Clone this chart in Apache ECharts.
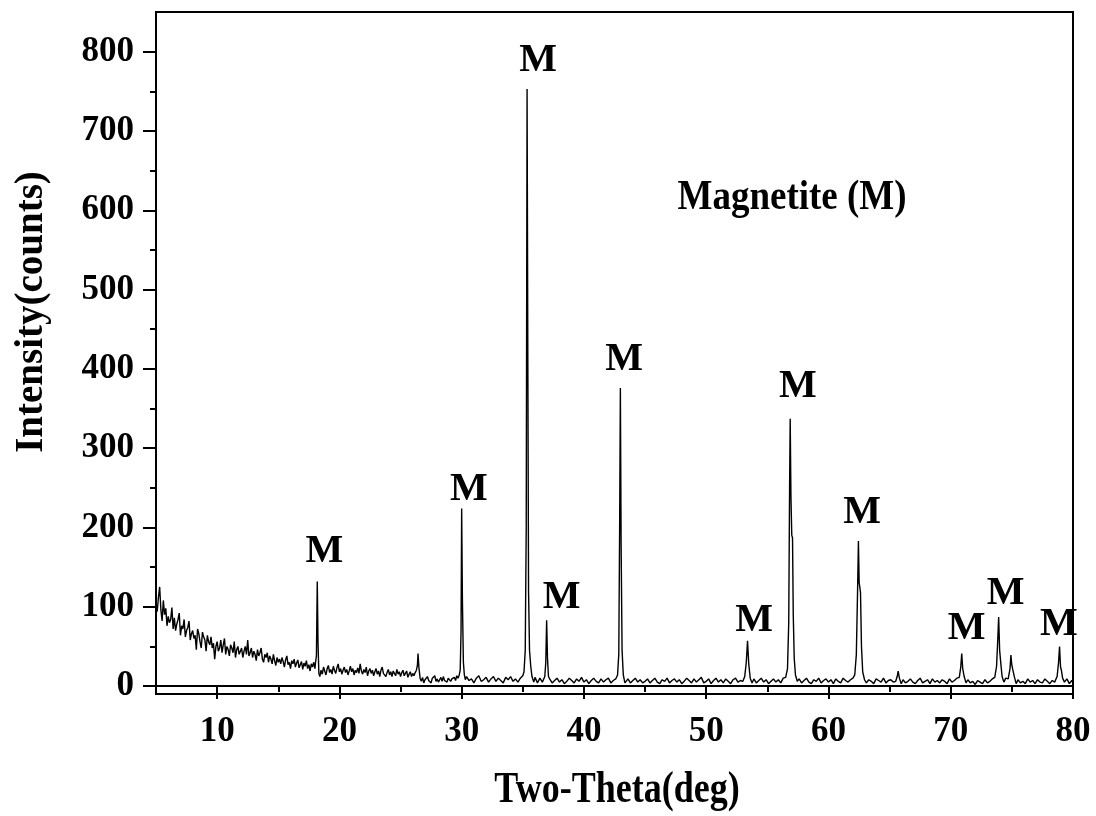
<!DOCTYPE html>
<html>
<head>
<meta charset="utf-8">
<title>XRD Magnetite</title>
<script src="https://cdn.jsdelivr.net/npm/echarts@6/dist/echarts.min.js"></script>
<style>
  html, body { margin: 0; padding: 0; background: #fff; }
  #main { width: 1096px; height: 816px; }
</style>
</head>
<body>
<div id="main"></div>
<script>
// scan data, [2theta, counts]
var scanLow = [
  [5.0,100],[5.1,94],[5.2,112],[5.3,125],[5.4,96],[5.5,82],[5.6,108],[5.7,90],[5.8,98],[5.9,76],
  [6.0,88],[6.1,80],[6.2,84],[6.3,99],[6.4,72],[6.5,86],[6.6,70],[6.7,78],[6.8,84],[6.9,92],
  [7.0,64],[7.1,76],[7.2,72],[7.3,84],[7.4,62],[7.5,70],[7.6,74],[7.7,82],[7.8,58],[7.9,66],
  [8.0,70],[8.1,60],[8.2,64],[8.3,46],[8.4,72],[8.5,66],[8.6,56],[8.7,48],[8.8,68],[8.9,62],
  [9.0,58],[9.1,44],[9.2,64],[9.3,56],[9.4,52],[9.5,62],[9.6,48],[9.7,54],[9.8,34],[9.9,50],
  [10.0,56],[10.1,44],[10.2,48],[10.3,58],[10.4,42],[10.5,52],[10.6,60],[10.7,40],[10.8,50],[10.9,46],
  [11.0,38],[11.1,52],[11.2,48],[11.3,42],[11.4,56],[11.5,36],[11.6,46],[11.7,50],[11.8,40],[11.9,44],
  [12.0,48],[12.1,36],[12.2,44],[12.3,50],[12.4,40],[12.5,58],[12.6,38],[12.7,42],[12.8,48],[12.9,36],
  [13.0,44],[13.1,40],[13.2,32],[13.3,46],[13.4,38],[13.5,42],[13.6,48],[13.7,34],[13.8,30],[13.9,40],
  [14.0,36],[14.1,42],[14.2,30],[14.3,38],[14.4,34],[14.5,28],[14.6,40],[14.7,32],[14.8,26],[14.9,36],
  [15.0,30]
];
var scanMid = [
  [15.1,34],[15.2,28],[15.3,36],[15.4,31],[15.5,24],[15.6,33],[15.7,38],[15.8,27],[15.9,30],[16.0,22],
  [16.1,32],[16.2,28],[16.3,34],[16.4,24],[16.5,29],[16.6,33],[16.7,23],[16.8,27],[16.9,31],[17.0,21],
  [17.1,29],[17.2,25],[17.3,32],[17.4,22],[17.5,27],[17.6,19],[17.7,28],[17.8,24],[17.9,30],[18.0,22],
  [18.05,30],[18.12,38],[18.19,132],[18.25,55],[18.32,16],[18.4,12],[18.5,20],[18.6,15],[18.7,24],[18.8,19],
  [18.9,14],[19.0,22],[19.1,26],[19.2,17],[19.3,21],[19.4,15],[19.5,25],[19.6,20],[19.7,16],[19.8,23],
  [19.9,28],[20.0,18],[20.1,22],[20.2,15],[20.3,20],[20.4,24],[20.5,17],[20.6,21],[20.7,14],[20.8,19],
  [20.9,25],[21.0,18],[21.1,22],[21.2,14],[21.3,20],[21.4,17],[21.5,23],[21.6,16],[21.7,28],[21.8,19],
  [21.9,15],[22.0,21],[22.1,17],[22.2,24],[22.3,13],[22.4,19],[22.5,22],[22.6,16],[22.7,20],[22.8,13],
  [22.9,18],[23.0,22],[23.1,15],[23.2,19],[23.3,12],[23.4,20],[23.5,24],[23.6,16],[23.7,18],[23.8,12],
  [23.9,17],[24.0,21],[24.1,14],[24.2,18],[24.3,12],[24.4,19],[24.5,16],[24.6,13],[24.7,21],[24.8,15],
  [24.9,18],[25.0,12],[25.1,17],[25.2,20],[25.3,13],[25.4,16],[25.5,19],[25.6,11],[25.7,15],[25.8,18],
  [25.9,12],[26.0,16],[26.1,13],[26.2,17],[26.3,20],[26.38,26],[26.43,41],[26.5,24],[26.6,10],[26.7,6],
  [26.8,11],[26.9,4],[27.0,8],[27.1,6],[27.2,12],[27.3,7],[27.4,9],[27.5,4],[27.6,10],[27.7,8],
  [27.8,13],[27.9,6],[28.0,9],[28.1,5],[28.2,8],[28.3,11],[28.4,6],[28.5,12],[28.6,7],[28.7,9],
  [28.8,5],[28.9,10],[29.0,12],[29.1,6],[29.2,9],[29.3,8],[29.4,11],[29.5,7],[29.6,13],[29.7,10],
  [29.8,14],[29.88,20],[29.95,70],[30.0,224],[30.06,110],[30.14,30],[30.22,14],[30.3,8]
];
var scanMain = [
  [30.4,12],[30.6,7],[30.8,9],[31.0,4],[31.2,10],[31.4,13],[31.6,6],[31.8,8],[32.0,11],[32.2,5],
  [32.4,9],[32.6,12],[32.8,6],[33.0,10],[33.2,7],[33.4,4],[33.6,11],[33.8,8],[34.0,12],[34.2,6],
  [34.4,9],[34.6,5],[34.8,10],[35.0,13],[35.1,18],[35.2,45],[35.28,200],[35.35,753],[35.41,420],[35.47,120],
  [35.55,45],[35.65,25],[35.75,12],[35.9,5],[36.0,11],[36.2,4],[36.4,10],[36.6,5],[36.8,12],[36.88,30],
  [36.95,83],[37.02,35],[37.1,12],[37.2,9],[37.4,4],[37.6,7],[37.8,10],[38.0,5],[38.2,8],[38.4,3],
  [38.6,6],[38.8,10],[39.0,7],[39.2,4],[39.4,9],[39.6,6],[39.8,11],[40.0,5],[40.2,8],[40.4,3],
  [40.6,7],[40.8,10],[41.0,6],[41.2,4],[41.4,9],[41.6,5],[41.8,8],[42.0,10],[42.2,4],[42.4,7],
  [42.6,9],[42.75,14],[42.85,40],[42.92,200],[42.98,376],[43.04,180],[43.12,45],[43.22,14],[43.35,4],[43.6,9],
  [43.8,4],[44.0,7],[44.2,10],[44.4,5],[44.6,8],[44.8,4]
];
var scanHigh = [
  [45.0,6],[45.2,9],[45.4,4],[45.6,7],[45.8,10],[46.0,5],[46.2,3],[46.4,8],[46.6,6],[46.8,10],
  [47.0,4],[47.2,7],[47.4,9],[47.6,5],[47.8,8],[48.0,3],[48.2,6],[48.4,10],[48.6,7],[48.8,4],
  [49.0,9],[49.2,5],[49.4,8],[49.6,11],[49.8,4],[50.0,6],[50.2,9],[50.4,3],[50.6,7],[50.8,10],
  [51.0,5],[51.2,8],[51.4,4],[51.6,9],[51.8,6],[52.0,3],[52.2,8],[52.4,10],[52.6,5],[52.8,7],
  [53.0,6],[53.15,12],[53.28,30],[53.38,57],[53.48,28],[53.6,10],[53.75,4],[53.9,9],[54.1,4],[54.3,7],
  [54.5,10],[54.7,5],[54.9,8],[55.1,3],[55.3,6],[55.5,9],[55.7,5],[55.9,8],[56.1,4],[56.3,10],
  [56.5,11],[56.65,22],[56.75,80],[56.82,250],[56.87,337],[56.93,240],[57.0,190],[57.06,187],[57.12,90],[57.2,35],
  [57.3,14],[57.45,6],[57.6,9],[57.8,4],[58.0,7],[58.2,10],[58.4,5],[58.6,3],[58.8,8],[59.0,6],
  [59.2,10],[59.4,4],[59.6,7],[59.8,9]
];
var scanEnd = [
  [60.0,5],[60.2,8],[60.4,3],[60.6,9],[60.8,6],[61.0,4],[61.2,10],[61.4,7],[61.6,5],[61.8,8],
  [62.0,10],[62.15,14],[62.28,40],[62.38,120],[62.45,183],[62.51,130],[62.56,125],[62.62,118],[62.7,50],[62.8,18],
  [62.95,8],[63.1,4],[63.3,8],[63.5,6],[63.7,3],[63.9,9],[64.1,7],[64.3,5],[64.5,10],[64.7,4],
  [64.9,7],[65.1,8],[65.3,5],[65.5,6],[65.62,12],[65.7,19],[65.8,10],[65.95,3],[66.1,8],[66.3,4],
  [66.5,6],[66.7,9],[66.9,5],[67.1,3],[67.3,7],[67.5,10],[67.7,4],[67.9,6],[68.1,8],[68.3,3],
  [68.5,9],[68.7,5],[68.9,7],[69.1,4],[69.3,8],[69.5,6],[69.7,3],[69.9,9],[70.1,5],[70.3,7],
  [70.5,10],[70.7,11],[70.82,24],[70.9,41],[70.98,22],[71.1,12],[71.25,4],[71.4,8],[71.6,4],[71.8,6],
  [72.0,2],[72.2,7],[72.4,5],[72.6,3],[72.8,8],[73.0,4],[73.2,6],[73.4,9],[73.6,11],[73.75,25],
  [73.85,60],[73.92,87],[74.0,45],[74.1,28],[74.2,12],[74.35,5],[74.5,10],[74.7,9],[74.85,22],[74.92,39],
  [75.0,26],[75.08,28],[75.2,12],[75.35,3],[75.5,8],[75.7,4],[75.9,6],[76.1,3],[76.3,9],[76.5,5],
  [76.7,7],[76.9,3],[77.1,8],[77.3,5],[77.5,4],[77.7,9],[77.9,6],[78.1,3],[78.3,7],[78.5,5],
  [78.7,12],[78.82,30],[78.9,50],[78.98,24],[79.05,20],[79.15,10],[79.3,5],[79.5,9],[79.7,3],[79.9,7],
  [80.0,4]
];

// where each "M" sits, in data units [2theta, counts]
var peakLabels = [
  [18.78,169],[30.58,248],[36.26,788],[38.18,111],[43.28,411],[53.93,83],
  [57.49,377],[62.75,219],[71.29,72],[74.48,116],[78.84,78]
];

var xMajorTicks = [10,20,30,40,50,60,70,80];
var xMinorTicks = [5,15,25,35,45,55,65,75];
var yMajorTicks = [0,100,200,300,400,500,600,700,800];
var yMinorTicks = [50,150,250,350,450,550,650,750];

var scan = scanLow.concat(scanMid, scanMain, scanHigh, scanEnd);

var serif = '"Liberation Serif", "Times New Roman", serif';

var myChart = echarts.init(document.getElementById('main'));

var option = {
  animation: false,
  backgroundColor: '#fff',
  grid: {
    left: 156, right: 23, top: 12, bottom: 122,
    show: true, borderColor: '#000', borderWidth: 2
  },
  xAxis: [{
    type: 'value', min: 5, max: 80,
    axisLine: { lineStyle: { color: '#000', width: 2 } },
    axisTick: { customValues: xMajorTicks, length: 13, lineStyle: { color: '#000', width: 2 } },
    axisLabel: {
      customValues: xMajorTicks, margin: 20, color: '#000',
      fontFamily: serif, fontWeight: 'bold', fontSize: 35
    },
    splitLine: { show: false }
  }, {
    type: 'value', min: 5, max: 80, position: 'bottom',
    axisLine: { show: false },
    axisTick: { customValues: xMinorTicks, length: 6, lineStyle: { color: '#000', width: 2 } },
    axisLabel: { show: false },
    splitLine: { show: false }
  }],
  yAxis: [{
    type: 'value', min: -10, max: 850,
    axisLine: { show: true, lineStyle: { color: '#000', width: 2 } },
    axisTick: { show: true, customValues: yMajorTicks, length: 13, lineStyle: { color: '#000', width: 2 } },
    axisLabel: {
      customValues: yMajorTicks, margin: 22, color: '#000',
      fontFamily: serif, fontWeight: 'bold', fontSize: 35
    },
    splitLine: { show: false }
  }, {
    type: 'value', min: -10, max: 850, position: 'left',
    axisLine: { show: false },
    axisTick: { show: true, customValues: yMinorTicks, length: 6, lineStyle: { color: '#000', width: 2 } },
    axisLabel: { show: false },
    splitLine: { show: false }
  }],
  graphic: [{
    type: 'text', x: 617, y: 790, scaleY: 1.25,
    style: {
      text: 'Two-Theta(deg)', fill: '#000', font: 'bold 36px ' + serif,
      textAlign: 'center', textVerticalAlign: 'middle'
    }
  }, {
    type: 'text', x: 31, y: 312, rotation: Math.PI / 2, scaleY: 1.05,
    style: {
      text: 'Intensity(counts)', fill: '#000', font: 'bold 39px ' + serif,
      textAlign: 'center', textVerticalAlign: 'middle'
    }
  }, {
    type: 'text', x: 792, y: 198, scaleY: 1.13,
    style: {
      text: 'Magnetite (M)', fill: '#000', font: 'bold 37px ' + serif,
      textAlign: 'center', textVerticalAlign: 'middle'
    }
  }],
  series: [{
    name: 'scan',
    type: 'line',
    data: scan,
    showSymbol: false,
    lineStyle: { color: '#000', width: 1.4 },
    z: 3
  }, {
    name: 'labels',
    type: 'scatter',
    data: peakLabels,
    symbolSize: 0,
    itemStyle: { opacity: 1 },
    label: {
      show: true, position: 'inside', formatter: 'M', color: '#000', opacity: 1,
      fontFamily: serif, fontWeight: 'bold', fontSize: 40
    },
    z: 4
  }]
};

myChart.setOption(option);
</script>
</body>
</html>
